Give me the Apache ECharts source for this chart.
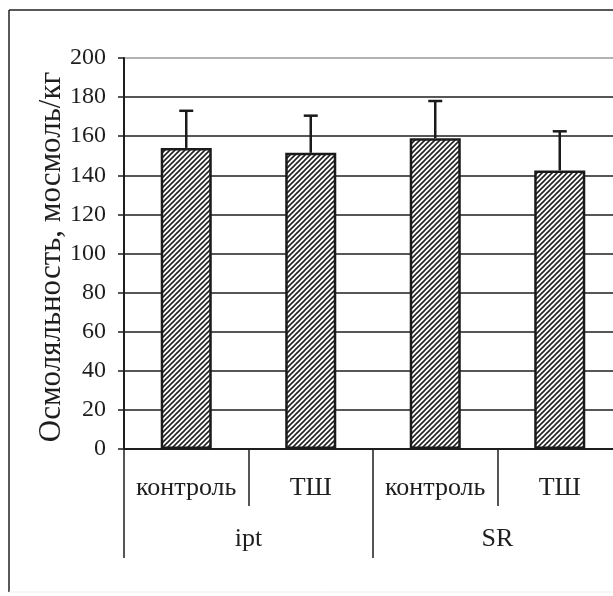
<!DOCTYPE html>
<html>
<head>
<meta charset="utf-8">
<script src="https://cdn.jsdelivr.net/npm/echarts@6/dist/echarts.min.js"></script>
<style>
  html, body { margin: 0; padding: 0; background: #fff; overflow: hidden; }
  #chart { width: 640px; height: 596px; }
</style>
</head>
<body>
<div id="chart"></div>
<script>
// Osmolality by group and condition (mean ± SD)
const categories = ['контроль', 'ТШ', 'контроль', 'ТШ'];
const groups = ['ipt', 'SR'];
const means = [154, 151.5, 159, 142.5];
const sd = [19, 19, 19, 20];
const yTicks = { min: 0, max: 200, interval: 20 };
const yTitle = 'Осмоляльность, мосмоль/кг';

const FONT = '"Liberation Serif", "DejaVu Serif", serif';
const INK = '#1e1e1e';

// diagonal hatch tile for the bars
function hatchTile() {
  const s = 5;
  const c = document.createElement('canvas');
  c.width = s; c.height = s;
  const g = c.getContext('2d');
  g.fillStyle = '#ffffff';
  g.fillRect(0, 0, s, s);
  g.strokeStyle = '#222222';
  g.lineWidth = 1.6;
  g.beginPath();
  g.moveTo(-1, 1); g.lineTo(1, -1);
  g.moveTo(0, s); g.lineTo(s, 0);
  g.moveTo(s - 1, s + 1); g.lineTo(s + 1, s - 1);
  g.stroke();
  return c;
}

const splitColors = [];
for (let v = yTicks.min; v <= yTicks.max; v += yTicks.interval) {
  splitColors.push(v === yTicks.max ? '#9a9a9a' : INK);
}

const chart = echarts.init(document.getElementById('chart'), null, { renderer: 'canvas' });

chart.setOption({
  backgroundColor: '#ffffff',
  animation: false,
  grid: { left: 124, top: 58, width: 498, height: 391, containLabel: false },
  graphic: [
    { type: 'line', shape: { x1: 9, y1: 10, x2: 640, y2: 10 }, style: { stroke: '#222', lineWidth: 1.5 } },
    { type: 'line', shape: { x1: 9, y1: 10, x2: 9, y2: 592 }, style: { stroke: '#222', lineWidth: 1.5 } },
    { type: 'line', shape: { x1: 9, y1: 592, x2: 640, y2: 592 }, style: { stroke: '#ececec', lineWidth: 1 } },
    // vertical axis title
    {
      type: 'text',
      x: 52,
      y: 257,
      rotation: Math.PI / 2,
      style: {
        text: yTitle,
        fill: INK,
        font: 'normal 31px ' + FONT,
        align: 'center',
        verticalAlign: 'middle'
      }
    }
  ],
  xAxis: [
    {
      type: 'category',
      data: categories,
      position: 'bottom',
      boundaryGap: true,
      axisLine: { show: true, lineStyle: { color: INK, width: 2 } },
      axisTick: { show: true, interval: 0, length: 57, lineStyle: { color: INK, width: 1.5 } },
      axisLabel: { interval: 0, margin: 26, color: INK, fontFamily: FONT, fontSize: 26 }
    },
    {
      type: 'category',
      data: groups,
      position: 'bottom',
      offset: 0,
      boundaryGap: true,
      axisLine: { show: false },
      axisTick: { show: true, interval: 0, length: 109, lineStyle: { color: INK, width: 1.5 } },
      axisLabel: { interval: 0, margin: 77, color: INK, fontFamily: FONT, fontSize: 26 }
    }
  ],
  yAxis: {
    type: 'value',
    min: yTicks.min,
    max: yTicks.max,
    interval: yTicks.interval,
    axisLine: { show: true, lineStyle: { color: INK, width: 2 } },
    axisTick: { show: true, inside: false, length: 6, lineStyle: { color: INK, width: 1.5 } },
    axisLabel: { margin: 18, color: INK, fontFamily: FONT, fontSize: 24 },
    splitLine: { show: true, lineStyle: { color: splitColors, width: 1.5 } }
  },
  series: [
    {
      type: 'bar',
      xAxisIndex: 0,
      data: means,
      barWidth: '41%',
      itemStyle: {
        color: { image: hatchTile(), repeat: 'repeat' },
        borderColor: '#1a1a1a',
        borderWidth: 2.5
      },
      z: 3
    },
    {
      type: 'custom',
      xAxisIndex: 0,
      data: means.map((m, i) => [i, m, m + sd[i]]),
      renderItem: function (params, api) {
        const base = api.coord([api.value(0), api.value(1)]);
        const top = api.coord([api.value(0), api.value(2)]);
        const cap = 7;
        const style = { stroke: '#1a1a1a', lineWidth: 2.5, fill: null };
        return {
          type: 'group',
          children: [
            { type: 'line', shape: { x1: base[0], y1: base[1], x2: top[0], y2: top[1] }, style: style },
            { type: 'line', shape: { x1: top[0] - cap, y1: top[1], x2: top[0] + cap, y2: top[1] }, style: style }
          ]
        };
      },
      z: 4
    }
  ]
});
</script>
</body>
</html>
